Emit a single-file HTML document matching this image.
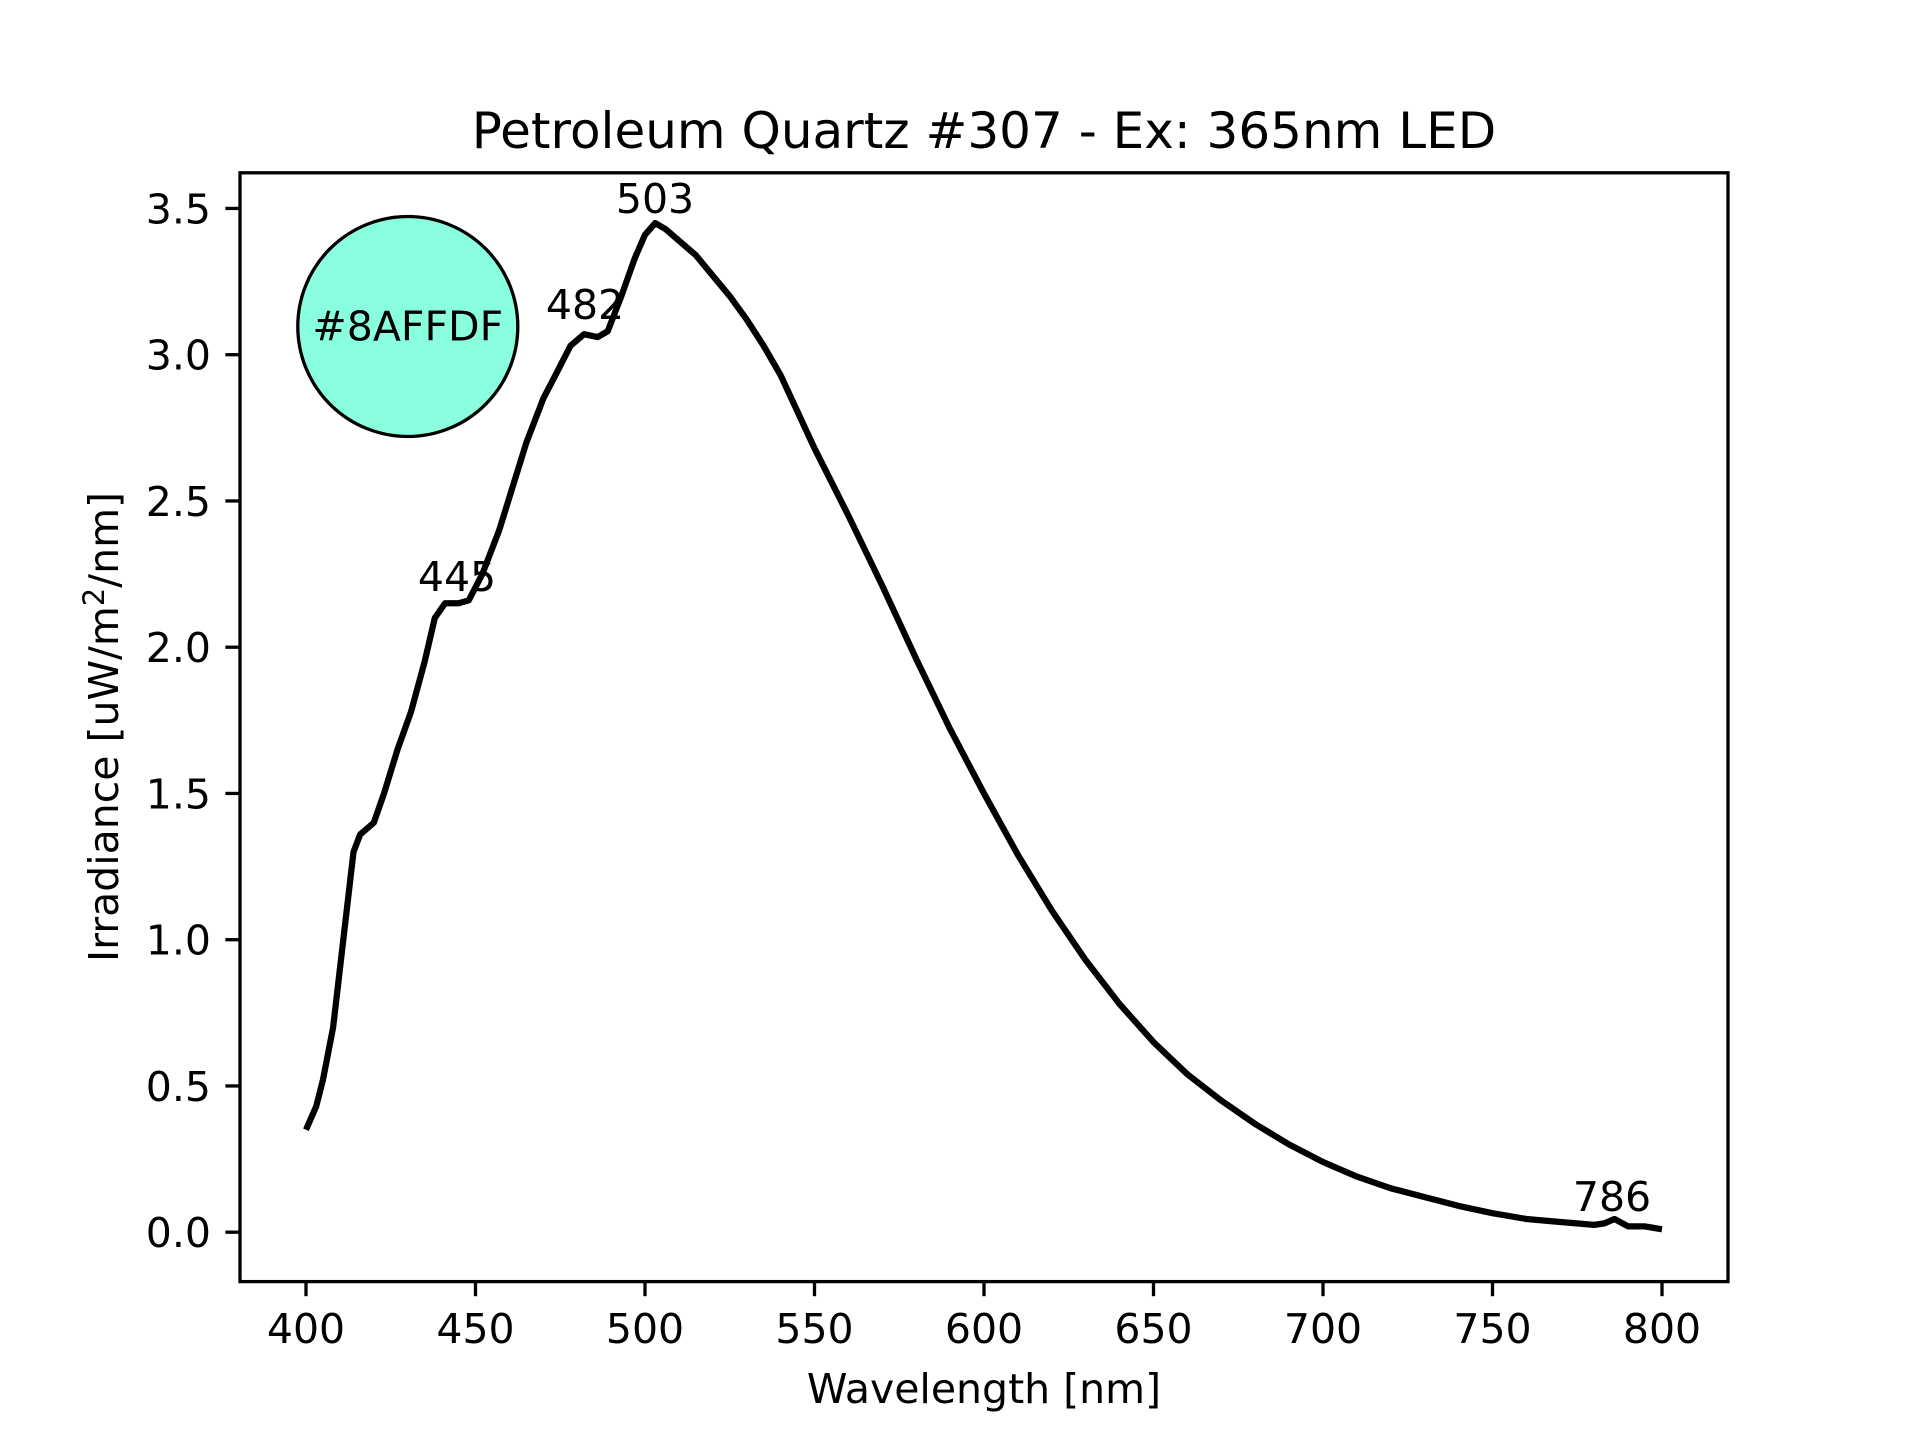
<!DOCTYPE html>
<html><head><meta charset="utf-8"><style>html,body{margin:0;padding:0;background:#fff}svg{display:block}text{font-family:"DejaVu Sans","Liberation Sans",sans-serif;fill:#000}</style></head><body>
<svg width="1920" height="1440" viewBox="0 0 1920 1440" xmlns="http://www.w3.org/2000/svg">
<rect width="1920" height="1440" fill="#fff"/>
<text x="984" y="148" font-size="50" text-anchor="middle">Petroleum Quartz #307 - Ex: 365nm LED</text>
<g id="curve"></g>
<circle cx="407.8" cy="326.5" r="110" fill="#8AFFDF" stroke="#000" stroke-width="3.3"/>
<text x="407.8" y="326.5" font-size="41" text-anchor="middle" dominant-baseline="central">#8AFFDF</text>
<text x="655" y="199" font-size="41" text-anchor="middle" dominant-baseline="central">503</text>
<text x="585" y="305" font-size="41" text-anchor="middle" dominant-baseline="central">482</text>
<text x="457" y="577" font-size="41" text-anchor="middle" dominant-baseline="central">445</text>
<text x="1612" y="1197" font-size="41" text-anchor="middle" dominant-baseline="central">786</text>
<rect x="240" y="172.8" width="1488" height="1108.8" fill="none" stroke="#000" stroke-width="3.3"/>
<g id="ticks" stroke="#000" stroke-width="3.3"></g>
<g id="labels" font-size="41"></g>
<text x="984" y="1403" font-size="41" text-anchor="middle">Wavelength [nm]</text>
<text transform="translate(118,727) rotate(-90)" font-size="41" text-anchor="middle">Irradiance [uW/m<tspan font-size="29" dy="-14">2</tspan><tspan dy="14">/nm]</tspan></text>
<script>
var NS="http://www.w3.org/2000/svg";
function X(w){return 306+(w-400)*3.39;}
function Y(v){return 1232.2-v*292.5;}
var d=[[400,0.35],[403,0.43],[405,0.52],[408,0.7],[411,1.0],[414,1.3],[416,1.36],[418,1.38],[420,1.4],[423,1.5],[427,1.65],[431,1.78],[435,1.95],[438,2.1],[441,2.15],[445,2.15],[448,2.16],[452,2.25],[457,2.4],[461,2.55],[465,2.7],[470,2.85],[474,2.94],[478,3.03],[482,3.07],[486,3.06],[489,3.08],[493,3.2],[497,3.33],[500,3.41],[503,3.45],[506,3.43],[510,3.39],[515,3.34],[520,3.27],[525,3.2],[530,3.12],[535,3.03],[540,2.93],[550,2.68],[560,2.45],[570,2.21],[580,1.96],[590,1.72],[600,1.5],[610,1.29],[620,1.1],[630,0.93],[640,0.78],[650,0.65],[660,0.54],[670,0.45],[680,0.37],[690,0.3],[700,0.24],[710,0.19],[720,0.15],[730,0.12],[740,0.09],[750,0.065],[760,0.045],[770,0.035],[780,0.025],[783,0.03],[786,0.045],[790,0.02],[795,0.02],[800,0.01]];
var p=document.createElementNS(NS,"polyline");
p.setAttribute("points",d.map(function(a){return X(a[0]).toFixed(1)+","+Y(a[1]).toFixed(1)}).join(" "));
p.setAttribute("fill","none");p.setAttribute("stroke","#000");p.setAttribute("stroke-width","6.25");p.setAttribute("stroke-linejoin","round");
document.getElementById("curve").appendChild(p);
var t=document.getElementById("ticks"),l=document.getElementById("labels");
function ln(x1,y1,x2,y2){var e=document.createElementNS(NS,"line");e.setAttribute("x1",x1);e.setAttribute("y1",y1);e.setAttribute("x2",x2);e.setAttribute("y2",y2);t.appendChild(e);}
function tx(x,y,s,a){var e=document.createElementNS(NS,"text");e.setAttribute("x",x);e.setAttribute("y",y);e.setAttribute("text-anchor",a);e.textContent=s;l.appendChild(e);}
for(var w=400;w<=800;w+=50){ln(X(w),1281.6,X(w),1296.2);tx(X(w),1343,String(w),"middle");}
for(var v=0;v<=3.5;v+=0.5){ln(240,Y(v),225.4,Y(v));tx(211,Y(v)+15,v.toFixed(1),"end");}
</script>
</svg>
</body></html>
